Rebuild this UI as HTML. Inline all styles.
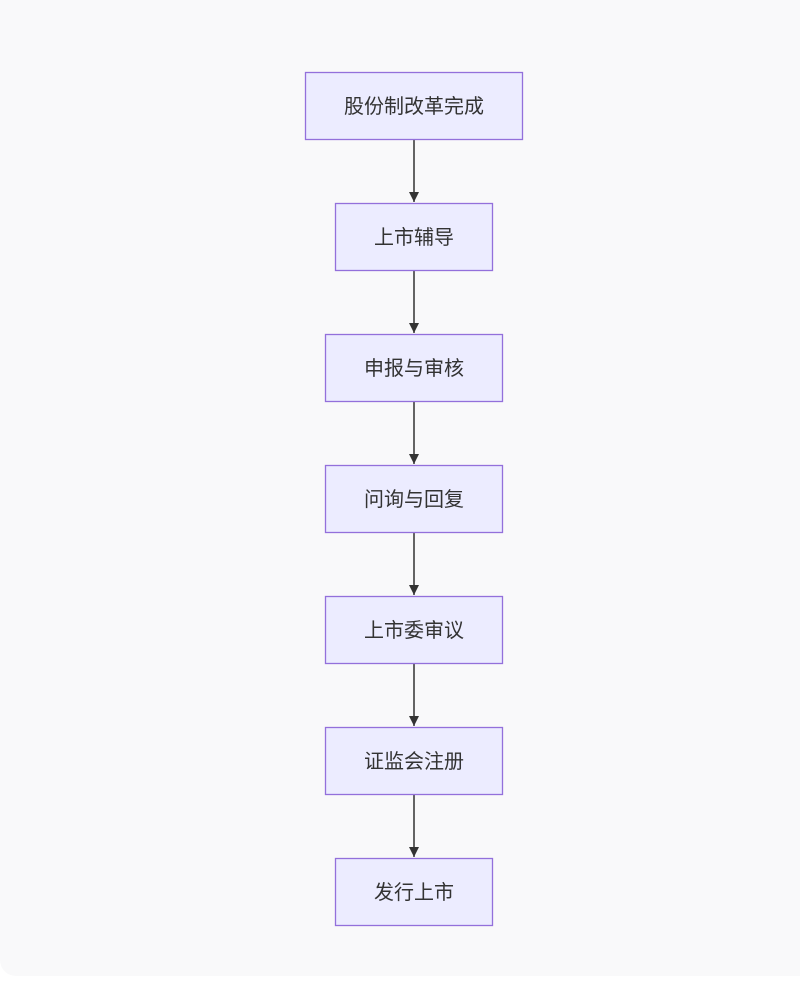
<!DOCTYPE html>
<html>
<head>
<meta charset="utf-8">
<style>
  html, body { margin:0; padding:0; background:#ffffff; }
  body { width:800px; height:982px; position:relative; overflow:hidden; }
  .bg { position:absolute; left:0; top:0; width:820px; height:976px; background:#f9f9fa; border-bottom-left-radius:16px; }
  svg { position:absolute; left:0; top:0; }
  text { font-family:"Liberation Sans","Noto Sans CJK SC",sans-serif; font-size:20px; fill:#333333; }
</style>
</head>
<body>
<div class="bg"></div>
<svg width="800" height="982" viewBox="0 0 800 982" xmlns="http://www.w3.org/2000/svg">
  <defs>
    <marker id="arr" viewBox="0 0 10 10" refX="10" refY="5" markerWidth="10" markerHeight="10" markerUnits="userSpaceOnUse" orient="auto">
      <path d="M0,0 L10,5 L0,10 z" fill="#333333"/>
    </marker>
  </defs>
  <g stroke="#333333" stroke-width="1.5" fill="none">
    <line x1="414" y1="140" x2="414" y2="202" marker-end="url(#arr)"/>
    <line x1="414" y1="271" x2="414" y2="333" marker-end="url(#arr)"/>
    <line x1="414" y1="402" x2="414" y2="464" marker-end="url(#arr)"/>
    <line x1="414" y1="533" x2="414" y2="595" marker-end="url(#arr)"/>
    <line x1="414" y1="664" x2="414" y2="726" marker-end="url(#arr)"/>
    <line x1="414" y1="795" x2="414" y2="857" marker-end="url(#arr)"/>
  </g>
  <g fill="#ececff" stroke="#9370db" stroke-width="1.3">
    <rect x="305.5" y="72.5" width="217" height="67"/>
    <rect x="335.5" y="203.5" width="157" height="67"/>
    <rect x="325.5" y="334.5" width="177" height="67"/>
    <rect x="325.5" y="465.5" width="177" height="67"/>
    <rect x="325.5" y="596.5" width="177" height="67"/>
    <rect x="325.5" y="727.5" width="177" height="67"/>
    <rect x="335.5" y="858.5" width="157" height="67"/>
  </g>
  <g text-anchor="middle">
    <text x="414" y="113">股份制改革完成</text>
    <text x="414" y="244">上市辅导</text>
    <text x="414" y="375">申报与审核</text>
    <text x="414" y="506">问询与回复</text>
    <text x="414" y="637">上市委审议</text>
    <text x="414" y="768">证监会注册</text>
    <text x="414" y="899">发行上市</text>
  </g>
</svg>
</body>
</html>
